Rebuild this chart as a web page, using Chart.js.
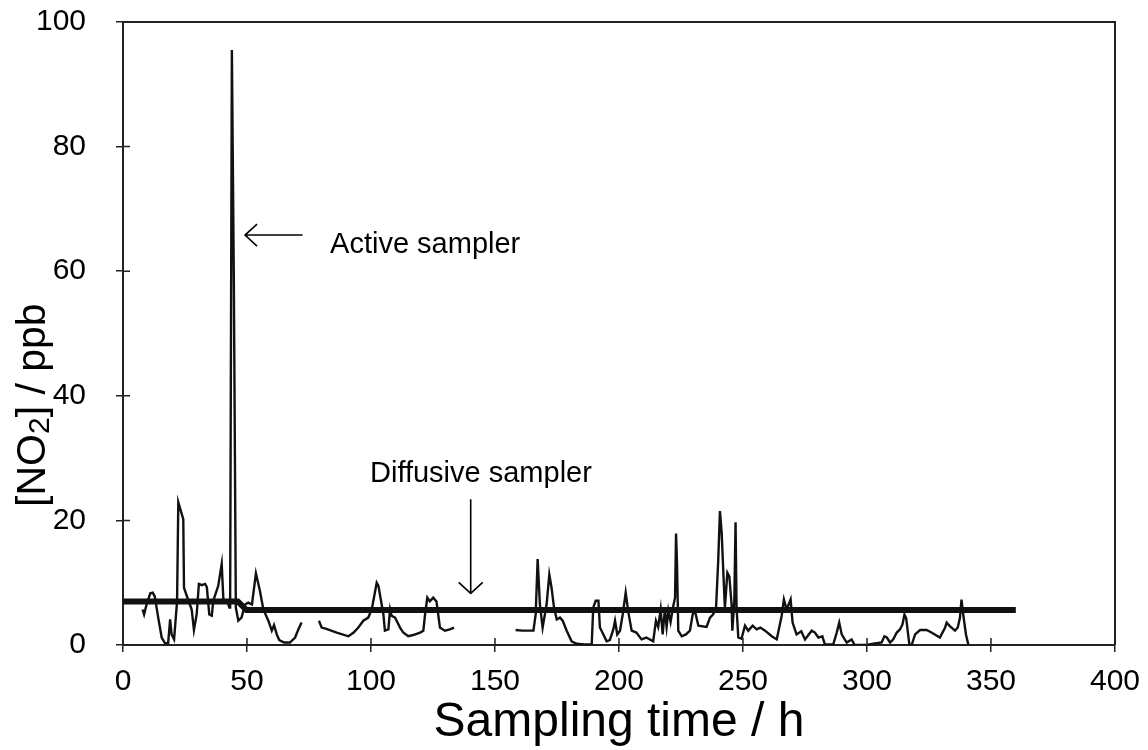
<!DOCTYPE html>
<html>
<head>
<meta charset="utf-8">
<script src="https://cdn.jsdelivr.net/npm/chart.js@4.4.1/dist/chart.umd.min.js"></script>
<style>
html,body{margin:0;padding:0;background:#fff;}
#c{display:block;}
</style>
</head>
<body>
<canvas id="c" width="1148" height="750"></canvas>
<script>
// ---- data ----
const xTickValues = [0, 50, 100, 150, 200, 250, 300, 350, 400];
const yTickValues = [0, 20, 40, 60, 80, 100];

// Active sampler: sampling time (h) and NO2 (ppb); null = no data (gap)
const activeTime = [
  7.9, 8.5, 9.5, 11.0, 12.0, 12.8, 14.2, 15.6, 16.9, 18.2, 19.0, 19.6, 20.6, 21.8, 22.3, 23.7, 24.3, 24.6, 25.7, 27.7,
  28.6, 29.7, 30.6, 31.8, 33.1, 33.8, 34.8, 35.8, 36.4, 38.4, 39.8, 40.5, 42.0, 42.9, 43.2, 43.9, 44.7, 45.5, 46.5, 47.8,
  49.2, 50.5, 52.0, 53.6, 55.2, 56.6, 58.6, 60.0, 60.9, 62.0, 63.0, 65.0, 67.3, 69.4, 70.7, 72.0,
  75.5,
  79.0, 80.1, 82.0, 86.2, 90.9, 93.0, 94.9, 96.9, 98.9, 100.3, 102.3, 103.0, 105.0, 105.6, 107.0, 107.7, 108.3, 109.7,
  111.7, 113.0, 115.0, 117.0, 119.8, 121.1, 121.8, 122.7, 123.7, 125.1, 126.4, 127.1, 127.8, 129.8, 131.8, 133.5,
  145.0,
  158.3, 161.0, 165.5, 166.4, 167.2, 168.1, 169.2, 170.8, 171.9, 172.8, 173.8, 174.9, 176.2, 177.3, 178.9, 180.9, 182.9,
  186.0, 189.0, 189.6, 190.6, 191.7, 192.3, 193.7, 195.0, 196.3, 197.7, 198.4, 199.3, 200.4, 201.5, 202.7, 203.8, 205.1,
  207.0, 209.1, 211.0, 213.8, 214.9, 215.8, 216.8, 217.6, 218.5, 219.2, 219.9, 220.8, 221.9, 222.6, 223.0, 223.4, 223.9,
  225.3, 227.0, 228.6, 229.7, 230.6, 232.0, 235.3, 236.7, 237.9, 239.1, 240.0, 240.7, 241.4, 242.1, 242.7, 243.7, 244.5,
  245.4, 245.7, 246.5, 247.0, 247.4, 248.1, 249.4, 250.8, 252.1, 253.9, 255.5, 257.0, 258.9, 261.6, 263.6, 265.6, 266.5,
  267.6, 269.2, 270.0, 271.6, 273.5, 275.0, 277.7, 279.0, 280.4, 282.0, 283.0, 286.4, 287.8, 288.8, 289.8, 291.8, 293.8,
  295.0, 299.9, 302.5, 305.9, 307.0, 308.0, 309.3, 310.6, 312.0, 313.3, 314.3, 315.1, 315.8, 317.1, 318.0, 319.4, 321.4,
  324.0, 326.0, 329.4, 331.5, 332.1, 333.5, 335.5, 336.6, 337.5, 338.1, 338.8, 339.9, 340.9
];
const activeNO2 = [
  5.7, 4.9, 6.5, 8.3, 8.4, 7.8, 4.4, 1.2, 0.3, 0.3, 4.1, 1.7, 0.9, 7.0, 22.9, 21.0, 20.2, 9.2, 7.9, 5.7,
  2.4, 4.9, 9.8, 9.6, 9.8, 9.3, 4.9, 4.7, 7.1, 9.5, 13.0, 7.1, 7.1, 6.0, 6.0, 95.5, 58.0, 6.0, 3.9, 4.4,
  6.5, 6.8, 6.5, 11.5, 8.7, 5.7, 3.9, 2.3, 3.2, 1.7, 0.8, 0.4, 0.4, 1.2, 2.5, 3.6,
  null,
  3.9, 2.8, 2.6, 2.0, 1.4, 2.0, 2.8, 3.9, 4.4, 5.7, 10.0, 9.5, 4.9, 2.3, 2.5, 5.7, 4.7, 4.4,
  2.8, 2.0, 1.4, 1.6, 2.0, 2.3, 4.9, 7.6, 7.0, 7.6, 7.0, 4.9, 2.8, 2.3, 2.5, 2.8,
  null,
  2.4, 2.3, 2.3, 4.9, 13.8, 6.5, 2.8, 6.5, 11.3, 9.2, 6.0, 4.1, 4.4, 3.9, 2.3, 0.6, 0.2,
  0.1, 0.1, 6.0, 7.1, 7.1, 2.8, 1.7, 0.6, 0.8, 2.5, 3.9, 1.7, 2.3, 4.9, 8.4, 5.2, 2.3,
  2.0, 0.9, 1.2, 0.6, 3.9, 2.9, 5.7, 1.7, 5.7, 2.9, 5.5, 3.7, 6.3, 7.6, 17.9, 13.0, 2.3,
  1.4, 1.7, 2.3, 4.9, 5.5, 3.1, 2.9, 4.4, 4.9, 5.7, 13.5, 21.5, 18.0, 11.4, 6.0, 11.6, 11.0,
  6.5, 2.3, 7.1, 19.7, 6.0, 1.2, 1.0, 3.1, 2.3, 3.1, 2.5, 2.8, 2.3, 1.4, 0.9, 4.7, 7.3,
  5.7, 7.3, 3.6, 1.7, 2.2, 0.9, 2.3, 2.0, 1.2, 1.4, 0.1, 0.1, 2.0, 3.6, 1.7, 0.4, 0.9,
  0.0, 0.0, 0.2, 0.4, 1.4, 1.2, 0.4, 0.9, 2.0, 2.5, 3.3, 4.9, 4.3, 0.0, 0.0, 1.7, 2.4,
  2.4, 2.0, 1.2, 2.8, 3.6, 3.0, 2.3, 2.8, 4.4, 7.3, 4.9, 1.7, 0.0
];

// Diffusive sampler
const diffusiveTime = [0, 46.3, 49.8, 360];
const diffusiveNO2 = [7.0, 7.0, 5.6, 5.6];

// Text
const xTitle = 'Sampling time / h';
const yTitleParts = ['[NO', '2', '] / ppb'];   // "[NO2] / ppb" with subscript 2
const activeLabel = 'Active sampler';
const diffusiveLabel = 'Diffusive sampler';

// ---- chart ----
const FONT = "'Liberation Sans', Arial, Helvetica, sans-serif";
const INK = '#111';

const toPts = (xs, ys) => xs.map((x, i) => ({x: x, y: ys[i]}));

const noOverflow = s => { s.paddingTop = 0; s.paddingBottom = 0; s.paddingLeft = 0; s.paddingRight = 0; };

const overlay = {
  id: 'overlay',
  afterDraw(chart) {
    const {ctx, chartArea: a, scales: {x, y}} = chart;
    ctx.save();
    ctx.strokeStyle = '#222';
    ctx.lineWidth = 2;
    // top and right frame
    ctx.beginPath();
    ctx.moveTo(a.left, a.top); ctx.lineTo(a.right, a.top); ctx.lineTo(a.right, a.bottom);
    ctx.stroke();
    // inner halves of tick marks
    ctx.lineWidth = 1.5;
    ctx.beginPath();
    xTickValues.forEach(v => { const px = x.getPixelForValue(v); ctx.moveTo(px, a.bottom); ctx.lineTo(px, a.bottom - 7); });
    yTickValues.forEach(v => { const py = y.getPixelForValue(v); ctx.moveTo(a.left, py); ctx.lineTo(a.left + 7, py); });
    ctx.stroke();

    ctx.fillStyle = '#000';

    // x-axis title
    ctx.save();
    ctx.font = '48px ' + FONT;
    ctx.textAlign = 'center';
    ctx.textBaseline = 'alphabetic';
    ctx.fillText(xTitle, (a.left + a.right) / 2, 736);
    ctx.restore();

    // y-axis title with subscript
    ctx.save();
    const big = '41px ' + FONT, small = '30px ' + FONT;
    ctx.font = big; const w1 = ctx.measureText(yTitleParts[0]).width, w3 = ctx.measureText(yTitleParts[2]).width;
    ctx.font = small; const w2 = ctx.measureText(yTitleParts[1]).width;
    const total = w1 + w2 + w3;
    ctx.translate(30, y.getPixelForValue(38.5));
    ctx.rotate(-Math.PI / 2);
    ctx.textAlign = 'left';
    ctx.textBaseline = 'alphabetic';
    let cx = -total / 2;
    const base = 15;
    ctx.font = big; ctx.fillText(yTitleParts[0], cx, base); cx += w1;
    ctx.font = small; ctx.fillText(yTitleParts[1], cx, base + 4); cx += w2;
    ctx.font = big; ctx.fillText(yTitleParts[2], cx, base);
    ctx.restore();

    // annotations
    ctx.font = '29px ' + FONT;
    ctx.textBaseline = 'alphabetic';
    ctx.textAlign = 'left';
    ctx.fillText(activeLabel, x.getPixelForValue(83.5), y.getPixelForValue(63.0));
    ctx.fillText(diffusiveLabel, x.getPixelForValue(99.6), y.getPixelForValue(26.2));

    ctx.strokeStyle = '#000';
    ctx.lineWidth = 1.6;
    // active arrow (pointing left)
    const ax1 = x.getPixelForValue(49.2), ax2 = x.getPixelForValue(72.4), ay = y.getPixelForValue(65.8);
    ctx.beginPath();
    ctx.moveTo(ax2, ay); ctx.lineTo(ax1, ay);
    ctx.moveTo(ax1 + 12, ay - 11); ctx.lineTo(ax1, ay); ctx.lineTo(ax1 + 12, ay + 11);
    ctx.stroke();
    // diffusive arrow (pointing down)
    const dx = x.getPixelForValue(140.2), dy1 = y.getPixelForValue(23.4), dy2 = y.getPixelForValue(8.3);
    ctx.beginPath();
    ctx.moveTo(dx, dy1); ctx.lineTo(dx, dy2);
    ctx.moveTo(dx - 12, dy2 - 11); ctx.lineTo(dx, dy2); ctx.lineTo(dx + 12, dy2 - 11);
    ctx.stroke();
    ctx.restore();
  }
};

new Chart(document.getElementById('c'), {
  type: 'scatter',
  data: {
    datasets: [
      {
        label: activeLabel,
        data: toPts(activeTime, activeNO2),
        showLine: true,
        spanGaps: false,
        borderColor: INK,
        borderWidth: 2.4,
        pointRadius: 0,
        tension: 0,
        order: 2
      },
      {
        label: diffusiveLabel,
        data: toPts(diffusiveTime, diffusiveNO2),
        showLine: true,
        borderColor: INK,
        borderWidth: 6,
        pointRadius: 0,
        tension: 0,
        order: 1
      }
    ]
  },
  options: {
    responsive: false,
    animation: false,
    devicePixelRatio: 1,
    layout: {padding: {top: 22, right: 33, left: 0, bottom: 0}},
    plugins: {legend: {display: false}, tooltip: {enabled: false}},
    scales: {
      x: {
        type: 'linear',
        min: 0, max: 400,
        afterBuildTicks(s) { s.ticks = xTickValues.map(v => ({value: v})); },
        ticks: {font: {family: FONT, size: 30}, color: '#000', padding: 12, maxRotation: 0},
        grid: {drawOnChartArea: false, drawTicks: true, tickLength: 7, color: '#222', lineWidth: 1.5},
        border: {display: true, color: '#222', width: 2},
        title: {display: false},
        afterFit(s) { s.height = 105; noOverflow(s); }
      },
      y: {
        type: 'linear',
        min: 0, max: 100,
        afterBuildTicks(s) { s.ticks = yTickValues.map(v => ({value: v})); },
        ticks: {font: {family: FONT, size: 30}, color: '#000', padding: 30},
        grid: {drawOnChartArea: false, drawTicks: true, tickLength: 7, color: '#222', lineWidth: 1.5},
        border: {display: true, color: '#222', width: 2},
        title: {display: false},
        afterFit(s) { s.width = 123; noOverflow(s); }
      }
    }
  },
  plugins: [overlay]
});
</script>
</body>
</html>
